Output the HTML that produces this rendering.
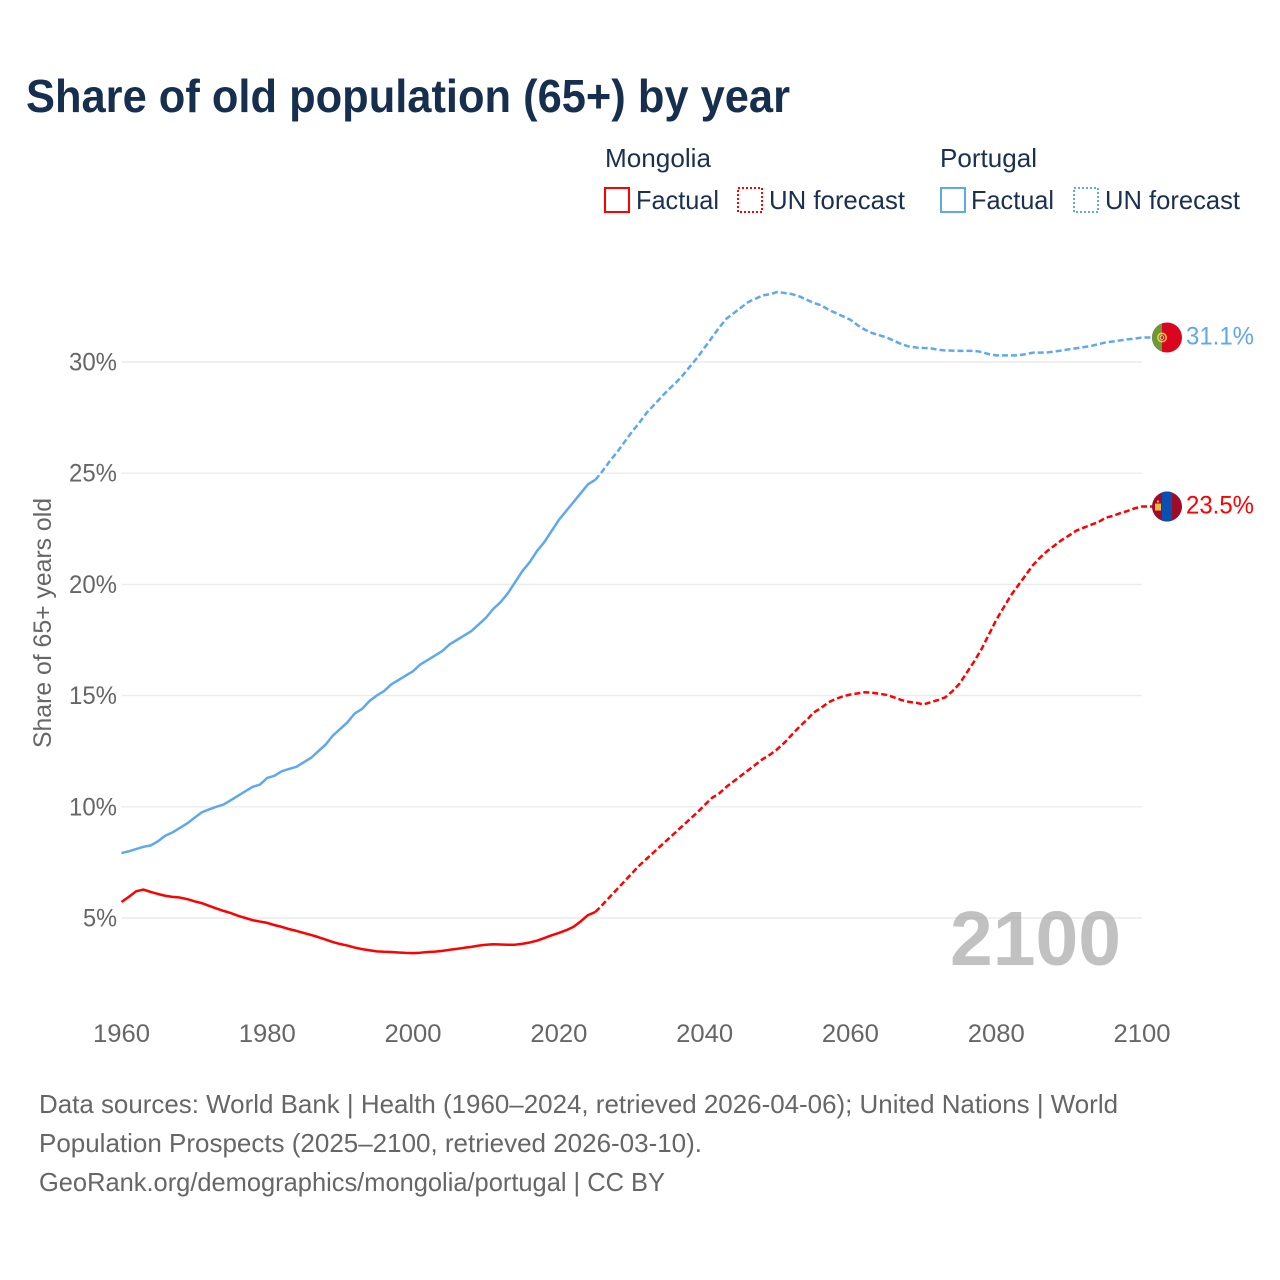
<!DOCTYPE html>
<html lang="en">
<head>
<meta charset="utf-8">
<title>Share of old population (65+) by year</title>
<style>
html,body{margin:0;padding:0;background:#fff;}
svg{display:block;font-family:"Liberation Sans",sans-serif;}
</style>
</head>
<body>
<svg id="chart" xmlns="http://www.w3.org/2000/svg" width="1280" height="1280" viewBox="0 0 1280 1280">
  <defs>
    <clipPath id="flag-clip"><circle cx="0" cy="0" r="15"/></clipPath>
  </defs>
  <rect width="1280" height="1280" fill="#fff"/>
  <text x="26" y="112" font-size="46" font-weight="700" fill="#172f4f" textLength="764" lengthAdjust="spacingAndGlyphs">Share of old population (65+) by year</text>

  <g font-size="26" fill="#1a3050">
    <text x="605" y="167" textLength="106" lengthAdjust="spacingAndGlyphs">Mongolia</text>
    <rect x="605" y="188" width="24" height="24" fill="none" stroke="#ff0000" stroke-width="2"/>
    <text x="636" y="209" textLength="83" lengthAdjust="spacingAndGlyphs">Factual</text>
    <rect x="738" y="188" width="24" height="24" fill="none" stroke="#ff0000" stroke-width="2" stroke-dasharray="2 2"/>
    <text x="769" y="209" textLength="136" lengthAdjust="spacingAndGlyphs">UN forecast</text>
    <text x="940" y="167" textLength="97" lengthAdjust="spacingAndGlyphs">Portugal</text>
    <rect x="941" y="188" width="24" height="24" fill="none" stroke="#5ea8ee" stroke-width="2"/>
    <text x="971" y="209" textLength="83" lengthAdjust="spacingAndGlyphs">Factual</text>
    <rect x="1074" y="188" width="24" height="24" fill="none" stroke="#5ea8ee" stroke-width="2" stroke-dasharray="2 2"/>
    <text x="1105" y="209" textLength="135" lengthAdjust="spacingAndGlyphs">UN forecast</text>
  </g>

  <g id="grid"></g>
  <g id="yticks"></g>
  <g id="xticks"></g>
  <text transform="translate(51,623) rotate(-90)" text-anchor="middle" font-size="25" fill="#666" textLength="250" lengthAdjust="spacingAndGlyphs">Share of 65+ years old</text>
  <text x="950" y="965" font-size="77" font-weight="700" fill="#a6a6a6" fill-opacity="0.7" textLength="171" lengthAdjust="spacingAndGlyphs">2100</text>
  <g id="series"></g>

  <g id="flag-portugal">
    <g clip-path="url(#flag-clip)">
      <rect x="-15" y="-15" width="30" height="30" fill="#da0620"/>
      <rect x="-15" y="-15" width="10" height="30" fill="#6a9a3a"/>
      <circle cx="-5" cy="0" r="4.2" fill="none" stroke="#f5d327" stroke-width="1.6"/>
      <circle cx="-5" cy="0" r="1.8" fill="#c8102e" stroke="#fff" stroke-width="0.7"/>
    </g>
  </g>
  <g id="flag-mongolia">
    <g clip-path="url(#flag-clip)">
      <rect x="-15" y="-15" width="30" height="30" fill="#a00c28"/>
      <rect x="-5" y="-15" width="10" height="30" fill="#0a50b0"/>
      <rect x="-12" y="-3" width="6" height="7" fill="#f3b73a"/>
      <circle cx="-9" cy="-5" r="1.2" fill="#f3b73a"/>
    </g>
  </g>
  <g id="end-labels"></g>

  <g font-size="26" fill="#666">
    <text x="39" y="1113" textLength="1079" lengthAdjust="spacingAndGlyphs">Data sources: World Bank | Health (1960–2024, retrieved 2026-04-06); United Nations | World</text>
    <text x="39" y="1152" textLength="663" lengthAdjust="spacingAndGlyphs">Population Prospects (2025–2100, retrieved 2026-03-10).</text>
    <text x="39" y="1191" textLength="626" lengthAdjust="spacingAndGlyphs">GeoRank.org/demographics/mongolia/portugal | CC BY</text>
  </g>
</svg>
<script>
const yTickValues = [5, 10, 15, 20, 25, 30];
const xTickValues = [1960, 1980, 2000, 2020, 2040, 2060, 2080, 2100];
const factualStartYear = 1960;
const forecastStartYear = 2025;

const portugalFactual = [7.92,8.0,8.1,8.2,8.26,8.45,8.7,8.85,9.05,9.25,9.5,9.75,9.88,10.0,10.1,10.3,10.5,10.7,10.9,11.0,11.3,11.4,11.6,11.7,11.8,12.0,12.2,12.5,12.8,13.2,13.5,13.8,14.2,14.4,14.75,15.0,15.2,15.5,15.7,15.9,16.1,16.4,16.6,16.8,17.0,17.3,17.5,17.7,17.9,18.2,18.5,18.9,19.2,19.6,20.1,20.6,21.0,21.5,21.9,22.4,22.9,23.3,23.7,24.1,24.5,24.7];
const portugalForecast = [24.7,25.1,25.55,25.95,26.4,26.85,27.25,27.7,28.05,28.4,28.75,29.05,29.4,29.8,30.2,30.65,31.1,31.55,31.95,32.2,32.45,32.7,32.85,33.0,33.05,33.15,33.1,33.05,32.95,32.8,32.65,32.55,32.35,32.2,32.05,31.9,31.65,31.45,31.3,31.2,31.1,30.95,30.8,30.7,30.65,30.63,30.62,30.55,30.52,30.51,30.5,30.5,30.5,30.45,30.35,30.3,30.3,30.3,30.3,30.35,30.42,30.42,30.43,30.47,30.52,30.57,30.62,30.67,30.72,30.8,30.88,30.92,30.97,31.02,31.05,31.1];
const mongoliaFactual = [5.72,5.95,6.2,6.28,6.17,6.08,6.0,5.95,5.92,5.85,5.75,5.67,5.55,5.43,5.32,5.22,5.1,5.0,4.9,4.84,4.78,4.68,4.6,4.5,4.42,4.33,4.24,4.14,4.03,3.92,3.83,3.76,3.67,3.6,3.55,3.5,3.48,3.47,3.45,3.43,3.42,3.44,3.47,3.49,3.52,3.57,3.61,3.66,3.7,3.76,3.8,3.82,3.81,3.8,3.8,3.84,3.9,3.98,4.1,4.22,4.33,4.45,4.6,4.85,5.13,5.27];
const mongoliaForecast = [5.27,5.6,5.95,6.3,6.65,7.0,7.35,7.65,7.95,8.25,8.55,8.85,9.15,9.45,9.75,10.08,10.4,10.6,10.9,11.15,11.4,11.65,11.9,12.15,12.35,12.6,12.9,13.25,13.6,13.9,14.25,14.45,14.7,14.85,14.97,15.05,15.1,15.15,15.13,15.08,15.03,14.92,14.8,14.72,14.68,14.6,14.7,14.8,14.92,15.2,15.55,16.05,16.55,17.1,17.75,18.4,18.95,19.5,19.95,20.4,20.85,21.2,21.5,21.75,22.0,22.2,22.42,22.55,22.68,22.8,23.0,23.08,23.2,23.3,23.42,23.5];

const NS = 'http://www.w3.org/2000/svg';
const X0 = 121.5, X1 = 1142, Y5 = 918, PX_PER_PCT = 22.24;
const BLUE = '#5ea8ee', RED = '#ff0000';
const FLAG_X = 1167;

function sx(year) { return X0 + (year - 1960) * (X1 - X0) / 140; }
function sy(pct) { return Y5 - (pct - 5) * PX_PER_PCT; }
function mk(tag, parent, attrs) {
  const el = document.createElementNS(NS, tag);
  for (const k in attrs) el.setAttribute(k, attrs[k]);
  parent.appendChild(el);
  return el;
}
function pathOf(startYear, values, extendToX) {
  let d = values.map(function (v, i) {
    return (i ? 'L' : 'M') + sx(startYear + i).toFixed(2) + ' ' + sy(v).toFixed(2);
  }).join(' ');
  if (extendToX) d += ' L' + extendToX + ' ' + sy(values[values.length - 1]).toFixed(2);
  return d;
}

const gridG = document.getElementById('grid');
const yG = document.getElementById('yticks');
yTickValues.forEach(function (v) {
  const line = mk('line', gridG, {x1: X0, x2: X1, y1: sy(v), y2: sy(v), stroke: '#ebebeb', 'stroke-width': 1.4});
  
  
  const label = mk('text', yG, {x: 117, y: sy(v) + 8.5, 'text-anchor': 'end', 'font-size': 25, fill: '#666',
    textLength: v < 10 ? 34 : 48, lengthAdjust: 'spacingAndGlyphs'});
  label.textContent = v + '%';
  
  
});

const xG = document.getElementById('xticks');
xTickValues.forEach(function (yr) {
  const label = mk('text', xG, {x: sx(yr), y: 1042, 'text-anchor': 'middle', 'font-size': 25, fill: '#666',
    textLength: 57, lengthAdjust: 'spacingAndGlyphs'});
  label.textContent = yr;
  
  
});

const seriesG = document.getElementById('series');
const common = {fill: 'none', 'stroke-width': 2.5, 'stroke-linejoin': 'round'};

const ptF = mk('path', seriesG, Object.assign({d: pathOf(factualStartYear, portugalFactual), stroke: BLUE}, common));



const ptP = mk('path', seriesG, Object.assign({d: pathOf(forecastStartYear, portugalForecast, FLAG_X - 15), stroke: BLUE, 'stroke-dasharray': '6 3'}, common));



const mnF = mk('path', seriesG, Object.assign({d: pathOf(factualStartYear, mongoliaFactual), stroke: RED}, common));



const mnP = mk('path', seriesG, Object.assign({d: pathOf(forecastStartYear, mongoliaForecast, FLAG_X - 15), stroke: RED, 'stroke-dasharray': '6 3'}, common));



const ptLast = portugalForecast[portugalForecast.length - 1];
const mnLast = mongoliaForecast[mongoliaForecast.length - 1];
document.getElementById('flag-portugal').setAttribute('transform', 'translate(' + FLAG_X + ',' + sy(ptLast) + ')');
document.getElementById('flag-mongolia').setAttribute('transform', 'translate(' + FLAG_X + ',' + sy(mnLast) + ')');

const endG = document.getElementById('end-labels');
const ptLabel = mk('text', endG, {x: 1186, y: sy(ptLast) + 7, 'font-size': 25, fill: BLUE, textLength: 68, lengthAdjust: 'spacingAndGlyphs'});
ptLabel.textContent = ptLast.toFixed(1) + '%';



const mnLabel = mk('text', endG, {x: 1186, y: sy(mnLast) + 7, 'font-size': 25, fill: RED, textLength: 68, lengthAdjust: 'spacingAndGlyphs'});
mnLabel.textContent = mnLast.toFixed(1) + '%';


</script>
</body>
</html>
